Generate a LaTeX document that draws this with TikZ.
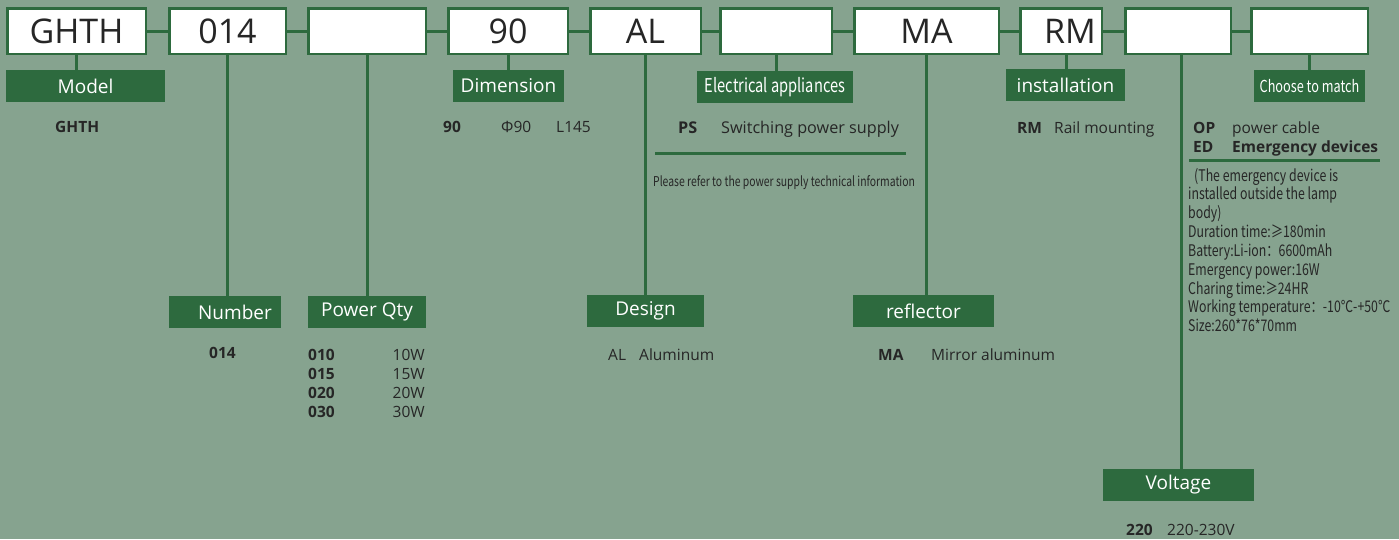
\documentclass[tikz,border=0pt]{standalone}
\usepackage{fontspec}
\setmainfont{Open Sans}
\newfontfamily\narrowfont[FakeStretch=0.77]{Noto Sans CJK SC}
\definecolor{bggreen}{RGB}{134,163,143}
\definecolor{dkgreen}{RGB}{45,106,62}
\definecolor{txtgray}{RGB}{38,38,38}
\tikzset{codebox/.style={draw=dkgreen, line width=2.5pt, fill=white,
        inner sep=0pt, minimum height=45.5pt, text=txtgray,
        font=\fontsize{34}{40}\selectfont},
    tagbox/.style={fill=dkgreen, text=white, inner sep=0pt,
        minimum height=32pt, font=\fontsize{19}{22}\selectfont},
    narrowtag/.style={tagbox, font=\narrowfont\fontsize{19}{22}\selectfont},
    link/.style={draw=dkgreen, line width=3pt},
    desc/.style={anchor=base west, inner sep=0pt, text=txtgray,
        font=\fontsize{15.5}{18}\selectfont},
    note/.style={anchor=base west, inner sep=0pt, text=txtgray,
        font=\narrowfont\fontsize{16}{18}\selectfont},
    }

\begin{document}
\begin{tikzpicture}[x=1pt,y=-1pt]
\fill[bggreen] (0,0) rectangle (1399,539);
\useasboundingbox (0,0) rectangle (1399,539);

% code boxes
\node[codebox, minimum width=138.5pt] (ghth) at (76.5,31) {GHTH};
\node[codebox, minimum width=116.5pt] (num) at (227.5,31) {014};
\node[codebox, minimum width=117.5pt] (qty) at (367,31) {};
\node[codebox, minimum width=119.5pt] (dim) at (508,31) {90};
\node[codebox, minimum width=110.5pt] (design) at (645.5,31) {AL};
\node[codebox, minimum width=111.5pt] (elec) at (776,31) {};
\node[codebox, minimum width=144.5pt] (refl) at (926.5,31) {MA};
\node[codebox, minimum width=81.5pt] (inst) at (1061,31) {\hspace*{18pt}RM};
\node[codebox, minimum width=105.5pt] (volt) at (1178,31) {};
\node[codebox, minimum width=116.5pt] (opt) at (1309.5,31) {};

\draw[link] (ghth.east) -- (num.west);
\draw[link] (num.east) -- (qty.west);
\draw[link] (qty.east) -- (dim.west);
\draw[link] (dim.east) -- (design.west);
\draw[link] (design.east) -- (elec.west);
\draw[link] (elec.east) -- (refl.west);
\draw[link] (refl.east) -- (inst.west);
\draw[link] (inst.east) -- (volt.west);
\draw[link] (volt.east) -- (opt.west);

% tags
\node[tagbox, minimum width=159pt] (t-model) at (85.5,86) {Model};
\node[tagbox, minimum width=112pt] (t-num) at (225,312) {\hspace*{20pt}Number};
\node[tagbox, minimum width=118pt] (t-qty) at (367,312) {Power Qty};
\node[tagbox, minimum width=111pt] (t-dim) at (508.5,86) {Dimension};
\node[tagbox, minimum width=117pt] (t-design) at (645.5,311) {Design};
\node[narrowtag, minimum width=156pt] (t-elec) at (775,87) {Electrical appliances};
\node[tagbox, minimum width=141pt] (t-refl) at (923.5,311) {reflector};
\node[tagbox, minimum width=119pt] (t-inst) at (1065.5,85) {installation};
\node[tagbox, minimum width=151pt] (t-volt) at (1178.5,485) {Voltage};
\node[narrowtag, minimum width=111pt, font=\narrowfont\fontsize{16.5}{22}\selectfont]
    (t-opt) at (1309.5,86) {Choose to match};

\draw[link] (ghth.south) -- (ghth.south |- t-model.north);
\draw[link] (num.south) -- (num.south |- t-num.north);
\draw[link] (qty.south) -- (qty.south |- t-qty.north);
\draw[link] (dim.south) -- (dim.south |- t-dim.north);
\draw[link] (design.south) -- (design.south |- t-design.north);
\draw[link] (elec.south) -- (elec.south |- t-elec.north);
\draw[link] (refl.south) -- (refl.south |- t-refl.north);
\draw[link] ([xshift=5pt]inst.south) -- ([xshift=5pt]inst.south |- t-inst.north);
\draw[link] ([xshift=3pt]volt.south) -- ([xshift=3pt]volt.south |- t-volt.north);
\draw[link] (opt.south) -- (opt.south |- t-opt.north);

% descriptions
\node[desc] (d-model) at (55,132) {\textbf{GHTH}};
\node[desc] (d-dim) at (443,132) {\makebox[58pt][l]{\textbf{90}}\makebox[55pt][l]{Φ90}L145};
\node[desc, font=\fontsize{16.2}{18}\selectfont] (d-elec) at (678,133)
    {\makebox[43pt][l]{\textbf{PS}}Switching power supply};
\draw[link] (655,153) -- (906,153);
\node[note, font=\narrowfont\fontsize{13.5}{16}\selectfont] (d-elec2) at (653,186)
    {Please refer to the power supply technical information};
\node[desc] (d-inst) at (1017,133) {\makebox[37pt][l]{\textbf{RM}}Rail mounting};
\node[desc] (d-opt1) at (1193,133) {\makebox[39pt][l]{\textbf{OP}}power cable};
\node[desc] (d-opt2) at (1193,152) {\textbf{\makebox[39pt][l]{ED}Emergency devices}};
\draw[link] (1189,160) -- (1380,160);
\foreach \ln [count=\i] in {{\hspace*{6pt}(The emergency device is},
    {installed outside the lamp}, {body)}, {Duration time:≥180min},
    {Battery:Li-ion：6600mAh}, {Emergency power:16W}, {Charing time:≥24HR},
    {Working temperature：-10℃-+50℃}, {Size:260*76*70mm}}
  \node[note] (d-em\i) at (1188,{181+18.85*(\i-1)}) {\ln};

\node[desc] (d-num) at (209,358) {\textbf{014}};
\foreach \c/\w [count=\i] in {010/10W, 015/15W, 020/20W, 030/30W} {
  \node[desc] (d-qc\i) at (308,{360+19*(\i-1)}) {\textbf{\c}};
  \node[desc, anchor=base east] (d-qw\i) at (425,{360+19*(\i-1)}) {\w};
}
\node[desc] (d-design) at (608,360) {\makebox[31pt][l]{AL}Aluminum};
\node[desc] (d-refl) at (878,360) {\makebox[53pt][l]{\textbf{MA}}Mirror aluminum};
\node[desc] (d-volt) at (1126,535) {\makebox[41pt][l]{\textbf{220}}220-230V};
\end{tikzpicture}
\end{document}
